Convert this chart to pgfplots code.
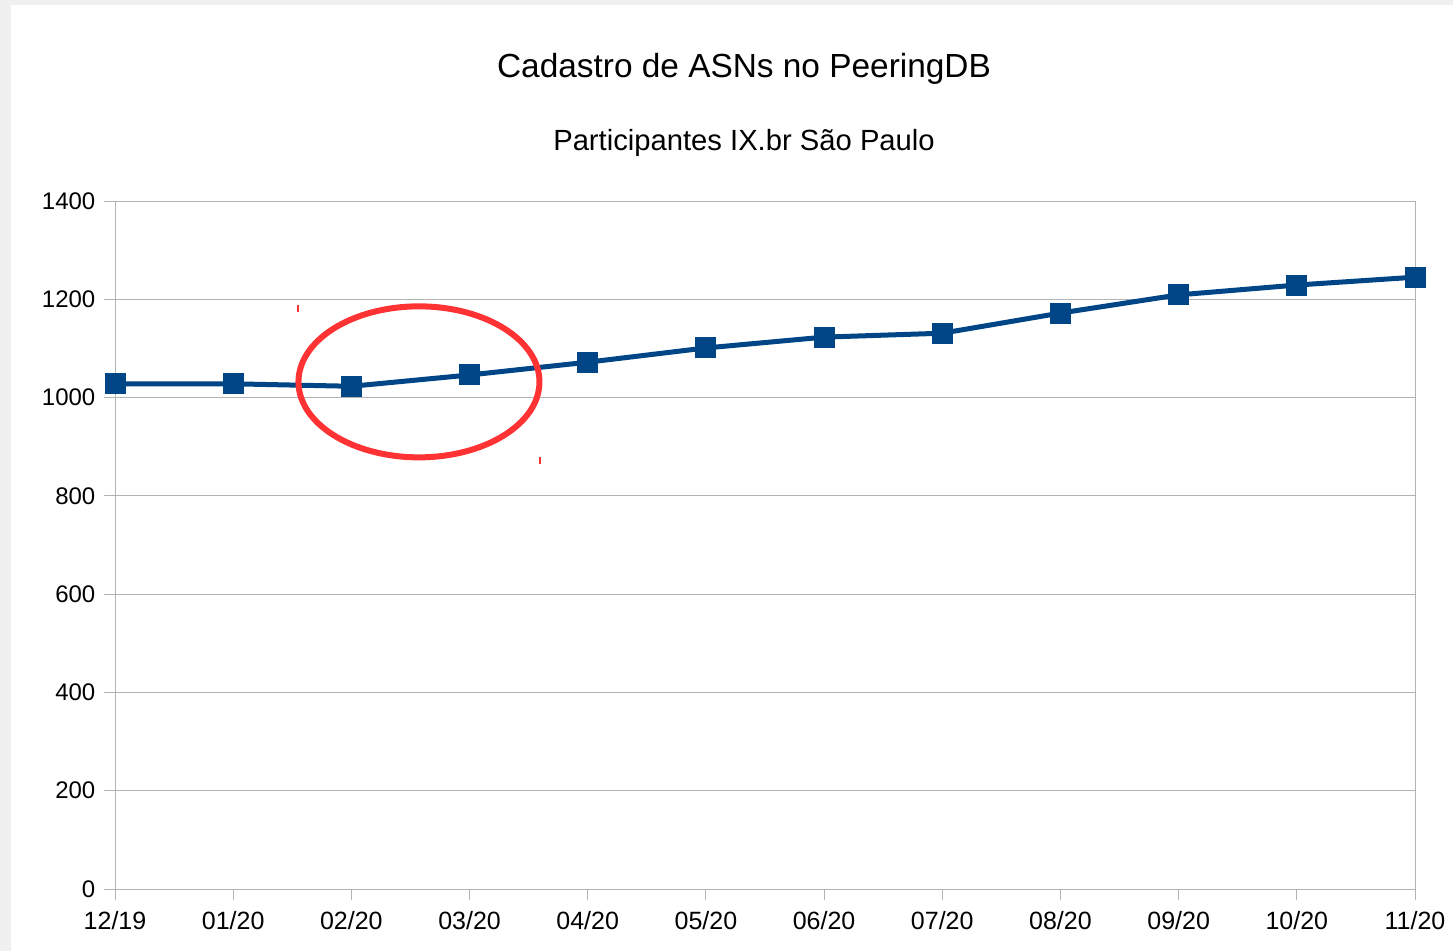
\documentclass[border=0pt]{standalone}
\usepackage{pgfplots}
\pgfplotsset{compat=1.18}
\usepackage{fontspec}
\setmainfont{Liberation Sans}
\definecolor{lineblue}{HTML}{004586}
\definecolor{gridgray}{HTML}{B3B3B3}
\definecolor{bordergray}{HTML}{F0F0F0}
\definecolor{circred}{HTML}{FF3333}
\begin{document}
\begin{tikzpicture}
\useasboundingbox (0,0) rectangle (1453pt,-951pt);
\fill[bordergray] (0,0) rectangle (1453pt,-951pt);
\fill[white] (11pt,-5pt) rectangle (1453pt,-951pt);
\node[anchor=base,inner sep=0pt] at (744pt,-77pt) {\fontsize{33.4}{33.4}\selectfont Cadastro de ASNs no PeeringDB};
\node[anchor=base,inner sep=0pt] at (744pt,-150pt) {\fontsize{29.2}{29.2}\selectfont Participantes IX.br São Paulo};
\begin{axis}[
  at={(115pt,-889pt)}, anchor=south west,
  scale only axis, width=1300pt, height=688pt,
  xmin=0, xmax=11, ymin=0, ymax=1400,
  xtick={0,...,11},
  xticklabels={12/19,01/20,02/20,03/20,04/20,05/20,06/20,07/20,08/20,09/20,10/20,11/20},
  ytick={0,200,...,1400},
  xtick pos=bottom, ytick pos=left,
  tick align=outside,
  major tick length=10.5pt,
  tick style={gridgray, line width=1pt},
  axis line style={gridgray, line width=1pt},
  ymajorgrids, grid style={gridgray, line width=1pt},
  /pgf/number format/assume math mode=true,
  /pgf/number format/1000 sep={},
  ticklabel style={font=\fontsize{24}{24}\selectfont, text=black},
  yticklabel style={inner sep=0pt, xshift=-9pt},
  xticklabel style={inner sep=0pt, yshift=-12pt, font=\fontsize{25}{25}\selectfont},
  clip=false,
]
\addplot[lineblue, line width=5pt, mark=square*, mark size=10pt, mark options={solid, fill=lineblue, line width=0pt}]
  coordinates {
  (0,1028) (1,1028) (2,1023) (3,1046) (4,1072) (5,1101)
  (6,1123) (7,1131) (8,1172) (9,1209) (10,1229) (11,1245)
  };
\draw[circred, line width=6pt] (axis cs:2.572,1032) ellipse [x radius=120.5pt, y radius=75.5pt];
\draw[circred, line width=1.5pt] (axis cs:1.548,1188) -- ++(0,-7pt);
\draw[circred, line width=1.5pt] (axis cs:3.596,880) -- ++(0,-7pt);
\end{axis}
\end{tikzpicture}
\end{document}
